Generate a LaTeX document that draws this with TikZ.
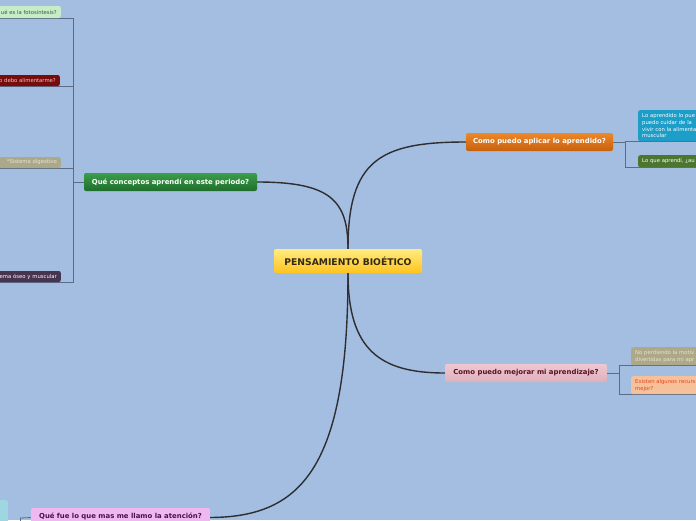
\documentclass[tikz,border=0pt]{standalone}
\usepackage{fontspec}
\setmainfont{DejaVu Sans}
\definecolor{bg}{RGB}{163,190,224}
\definecolor{brk}{RGB}{92,108,132}
\definecolor{curve}{RGB}{45,45,50}
\tikzset{
  box/.style={rounded corners=2pt, inner xsep=4pt, inner ysep=1pt, draw=none},
  mainfont/.style={font=\bfseries\fontsize{6.9}{8}\selectfont},
  kidfont/.style={font=\fontsize{5.3}{7}\selectfont},
  bracket/.style={draw=brk, line width=0.8pt},
  branch/.style={draw=curve, line width=1.4pt},
}
\begin{document}
\begin{tikzpicture}[x=1pt,y=-1pt]
\useasboundingbox (0,0) rectangle (696,520);
\clip (0,0) rectangle (696,520);
\fill[bg] (0,0) rectangle (696,520);
% bracket coordinates
\coordinate (l1) at (0,18);
\coordinate (l2) at (0,86);
\coordinate (l3) at (0,168);
\coordinate (l4) at (0,282);
\coordinate (lt) at (73,18);
\coordinate (lb) at (73,282);
\coordinate (lm) at (73,182);
\draw[bracket] (l1) -- (lt) -- (lb) -- (l4);
\draw[bracket] (l2) -- (73,86);
\draw[bracket] (l3) -- (73,168);
\coordinate (rt) at (625,141);
\coordinate (rb) at (625,167);
\coordinate (rm) at (625,142);
\draw[bracket] (696,141) -- (rt) -- (rb) -- (696,167);
\coordinate (pt) at (619,365);
\coordinate (pb) at (619,394);
\coordinate (pm) at (619,373);
\draw[bracket] (696,365) -- (pt) -- (pb) -- (696,394);
\coordinate (vt) at (20,518);
\coordinate (vb) at (20,530);
\draw[bracket] (vb) -- (vt);

% main nodes
\node[box, top color={rgb,255:red,255;green,236;blue,130}, bottom color={rgb,255:red,255;green,196;blue,30},
  minimum width=148pt, minimum height=24pt, text={rgb,255:red,50;green,40;blue,20},
  font=\bfseries\fontsize{9.2}{10}\selectfont] (c) at (348,261) {PENSAMIENTO BIOÉTICO};
\node[box, mainfont, top color={rgb,255:red,236;green,136;blue,40}, bottom color={rgb,255:red,200;green,96;blue,14},
  minimum width=147pt, minimum height=18pt, text=white] (o) at (539.5,142) {Como puedo aplicar lo aprendido?};
\node[box, mainfont, top color={rgb,255:red,238;green,200;blue,208}, bottom color={rgb,255:red,222;green,176;blue,188},
  minimum width=162pt, minimum height=18pt, text={rgb,255:red,90;green,16;blue,36}] (p) at (526,373) {Como puedo mejorar mi aprendizaje?};
\node[box, mainfont, top color={rgb,255:red,60;green,158;blue,74}, bottom color={rgb,255:red,30;green,110;blue,44},
  minimum width=173pt, minimum height=18pt, text=white] (g) at (170.5,182) {Qué conceptos aprendí en este periodo?};
\node[box, mainfont, fill={rgb,255:red,240;green,184;blue,240},
  minimum width=179pt, minimum height=19pt, text={rgb,255:red,70;green,20;blue,70}, text depth=4pt] (v) at (120.5,517.5) {Qué fue lo que mas me llamo la atención?};

% left children
\node[box, kidfont, anchor=east, fill={rgb,255:red,198;green,236;blue,200}, text={rgb,255:red,46;green,96;blue,60},
  text width=90pt, align=right, minimum height=12pt] (k1) at (61,12) {ué es la fotosíntesis?};
\node[box, kidfont, anchor=east, fill={rgb,255:red,120;green,12;blue,12}, text={rgb,255:red,240;green,200;blue,200},
  text width=90pt, align=right, minimum height=11pt] (k2) at (60,80.5) {o debo alimentarme?};
\node[box, kidfont, anchor=east, fill={rgb,255:red,172;green,168;blue,138}, text={rgb,255:red,232;green,230;blue,214},
  text width=90pt, align=right, minimum height=11pt] (k3) at (61,162.5) {*Sistema digestivo};
\node[box, kidfont, anchor=east, fill={rgb,255:red,70;green,52;blue,80}, text=white,
  text width=90pt, align=right, minimum height=11pt] (k4) at (61,276.5) {ema óseo y muscular};

% right children
\node[box, kidfont, anchor=north west, fill={rgb,255:red,28;green,158;blue,200}, text=white,
  text width=100pt, align=left, minimum height=31pt, font=\fontsize{5.3}{6.8}\selectfont] (r1) at (638,110) {Lo aprendido lo pue\\puedo cuidar de la\\vivir con la alimenta\\muscular};
\node[box, kidfont, anchor=north west, fill={rgb,255:red,76;green,118;blue,46}, text=white,
  text width=100pt, align=left, minimum height=12pt] (r2) at (638,155) {Lo que aprendí, ¿au};
\node[box, kidfont, anchor=north west, fill={rgb,255:red,172;green,168;blue,136}, text={rgb,255:red,230;green,228;blue,210},
  text width=100pt, align=left, minimum height=18pt] (q1) at (631,347) {No perdiendo la motiv\\divertidas para mi apr};
\node[box, kidfont, anchor=north west, fill={rgb,255:red,246;green,192;blue,152}, text={rgb,255:red,226;green,68;blue,30},
  text width=100pt, align=left, minimum height=18pt] (q2) at (631,376) {Existen algunos recurs\\mejor?};
\node[box, anchor=north east, fill={rgb,255:red,158;green,214;blue,226}, minimum width=20pt, minimum height=30pt] (cy) at (8,500) {};

% connectors
\draw[branch] (c.north) .. controls (348,160) and (380,142) .. (o.west);
\draw[branch] (c.north) .. controls (348,200) and (330,182) .. (g.east);
\draw[branch] (c.south) .. controls (348,350) and (380,373) .. (p.west);
\draw[branch] (c.south) .. controls (348,470) and (300,517) .. (v.east);
\draw[bracket] (g.west) -- (lm);
\draw[bracket] (o.east) -- (rm);
\draw[bracket] (p.east) -- (pm);
\draw[bracket] (v.west) -- (vt);
\end{tikzpicture}
\end{document}
